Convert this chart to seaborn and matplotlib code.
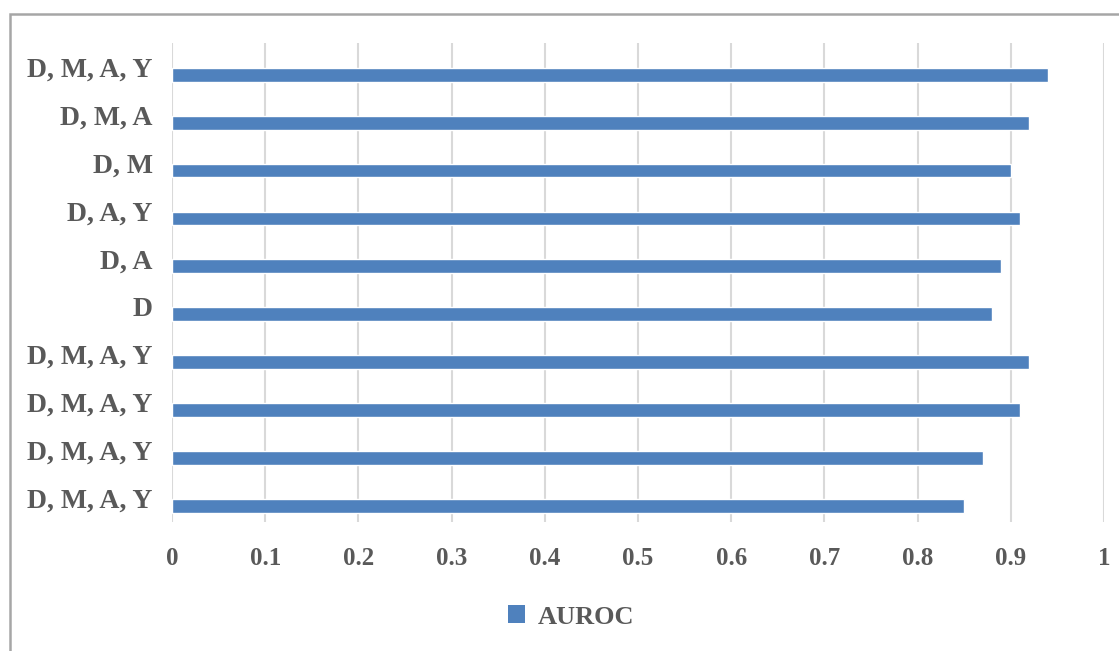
import matplotlib
matplotlib.use("Agg")
import matplotlib.pyplot as plt
import seaborn as sns
import pandas as pd
from matplotlib.patches import Rectangle

# Data
labels = ["D, M, A, Y", "D, M, A", "D, M", "D, A, Y", "D, A", "D",
          "D, M, A, Y", "D, M, A, Y", "D, M, A, Y", "D, M, A, Y"]
auroc = [0.94, 0.92, 0.90, 0.91, 0.89, 0.88, 0.92, 0.91, 0.87, 0.85]
xticks = [0, 0.1, 0.2, 0.3, 0.4, 0.5, 0.6, 0.7, 0.8, 0.9, 1.0]
xticklabels = ["0", "0.1", "0.2", "0.3", "0.4", "0.5", "0.6", "0.7", "0.8", "0.9", "1"]
series_name = "AUROC"

df = pd.DataFrame({"row": [str(i) for i in range(len(labels))], "AUROC": auroc})

sns.set_theme(style="white")
plt.rcParams['font.family'] = ['Liberation Serif', 'DejaVu Serif']
plt.rcParams['font.weight'] = 'bold'

W, H = 1119, 651
fig = plt.figure(figsize=(W / 100, H / 100), dpi=100)
ax = fig.add_axes([172 / W, 129 / H, 932 / W, 479 / H])

bar_color = "#4F81BD"
text_color = "#595959"

sns.barplot(data=df, x="AUROC", y="row", order=df["row"].tolist(), orient="h",
            color=bar_color, width=0.29, saturation=1, ax=ax, label=series_name)

ax.set_xlim(0, 1.0)
ax.set_ylim(9.33, -0.66)
ax.set_xticks(xticks)
ax.set_xticklabels(xticklabels, fontsize=18, fontweight='bold', color=text_color)
ax.set_yticks([i - 0.16 for i in range(len(labels))])
ax.set_yticklabels(labels, fontsize=20, fontweight='bold', color=text_color)
ax.tick_params(axis='x', length=0, pad=18)
ax.tick_params(axis='y', length=0, pad=14)
ax.set_xlabel("")
ax.set_ylabel("")
for s in ax.spines.values():
    s.set_visible(False)
ax.grid(axis='x', color='#d9d9d9', linewidth=1.5)
ax.grid(axis='y', visible=False)
ax.set_axisbelow(True)

if ax.get_legend() is not None:
    ax.get_legend().remove()

handle = Rectangle((0, 0), 1, 1, facecolor=bar_color, edgecolor='none')
fig.legend([handle], [series_name], loc='center', bbox_to_anchor=(571 / W, 34 / H),
           frameon=False, prop={'family': 'Liberation Serif', 'weight': 'bold', 'size': 19},
           labelcolor=text_color, handlelength=0.65, handleheight=0.65, handletextpad=0.5)

border = Rectangle((10 / W, -0.1), 1.2, (H - 14) / H + 0.1, transform=fig.transFigure,
                   fill=False, edgecolor='#a6a6a6', linewidth=1.8, clip_on=False)
fig.patches.append(border)

fig.savefig("out.png", dpi=100)
